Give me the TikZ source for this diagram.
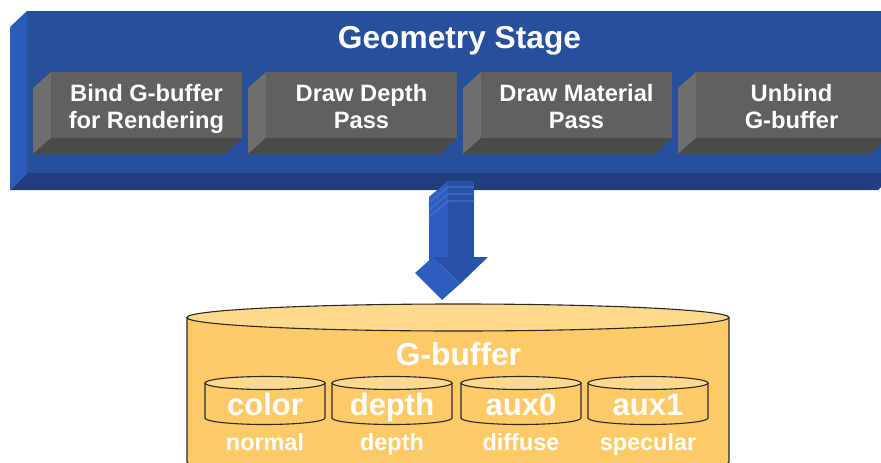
\documentclass[tikz,border=0pt]{standalone}
\usepackage{fontspec}
\setmainfont{Liberation Sans}
\definecolor{slabfront}{HTML}{274F9C}
\definecolor{slabside}{HTML}{2D5BB8}
\definecolor{slabbottom}{HTML}{213F7E}
\definecolor{boxfront}{HTML}{606060}
\definecolor{boxside}{HTML}{6E6E6E}
\definecolor{boxbottom}{HTML}{4A4A4A}
\definecolor{arrowfront}{HTML}{2852A6}
\definecolor{arrowside}{HTML}{2E5DBF}
\definecolor{arrowline}{HTML}{4470CC}
\definecolor{cylbody}{HTML}{FDCA67}
\definecolor{cyltop}{HTML}{FED98B}
\definecolor{cyledge}{HTML}{2A2A2A}
\begin{document}
\begin{tikzpicture}[x=1pt,y=-1pt,
  lbl/.style={text=white,inner sep=0pt,outer sep=0pt,anchor=base},
  bigfont/.style={font=\fontsize{31.7}{34}\selectfont\bfseries},
  boxfont/.style={font=\fontsize{23.7}{27}\selectfont\bfseries},
  tagfont/.style={font=\fontsize{31}{34}\selectfont\bfseries},
  subfont/.style={font=\fontsize{23.4}{26}\selectfont\bfseries},
  face/.style={inner sep=0pt,outer sep=0pt,anchor=north west},
  edge/.style={draw=cyledge,line width=1.1pt}]
\useasboundingbox (0,0) rectangle (881,463);
\clip (0,0) rectangle (881,463);

% ---- Geometry stage slab ----
\fill[slabside] (10,27) -- (27,11) -- (27,173) -- (10,190) -- cycle;
\fill[slabbottom] (10,190) -- (27,173) -- (895,173) -- (878,190) -- cycle;
\node[face,fill=slabfront,minimum width=868pt,minimum height=162pt] (stage) at (27,11) {};
\node[lbl,bigfont] (title) at (459.5,48) {Geometry Stage};

% ---- the four passes ----
\foreach \x/\n/\a/\b in {51/bind/Bind G-buffer/for Rendering,
                         266/depth/Draw Depth/Pass,
                         481/material/Draw Material/Pass,
                         696/unbind/Unbind/G-buffer} {
  \fill[boxside] (\x-18,88) -- (\x,72) -- (\x,138) -- (\x-18,154) -- cycle;
  \fill[boxbottom] (\x-18,154) -- (\x,138) -- (\x+191,138) -- (\x+174,154) -- cycle;
  \node[face,fill=boxfront,minimum width=191pt,minimum height=66pt] (\n) at (\x,72) {};
  \node[lbl,boxfont] (\n-text) at (\x+95.5,101)
    {\begin{tabular}[t]{@{}c@{}}\a\\\b\end{tabular}};
}

% ---- block arrow from the stage down to the G-buffer ----
\coordinate (arrowtop) at (461,181);
\coordinate (arrowtip) at (460,284);
\fill[arrowside] (429,197) -- (448,181) -- (448,257) -- (429,273) -- cycle;
\fill[arrowfront] (448,181) rectangle (474,257);
\foreach \y in {187,194,201}
  \draw[arrowline,line width=1.2pt] (429,\y+16) -- (448,\y) -- (474,\y);
\fill[arrowside] (433,257) -- (arrowtip) -- (442,300) -- (415,273) -- cycle;
\fill[arrowfront] (433,257) -- (488,257) -- (arrowtip) -- cycle;

% ---- G-buffer cylinder ----
\fill[cylbody] (187,317.5) -- (187,462)
  arc[start angle=180,end angle=0,x radius=271,y radius=13.5] -- (729,317.5) -- cycle;
\draw[edge] (187,317.5) -- (187,462)
  arc[start angle=180,end angle=0,x radius=271,y radius=13.5] -- (729,317.5);
\draw[edge,fill=cyltop] (458,317.5) ellipse[x radius=271,y radius=13.5];
\node[lbl,bigfont] (gbuf) at (458.5,365) {G-buffer};

% ---- the four render targets ----
\foreach \c/\n/\t/\s in {265/color/color/normal,
                         392/zbuf/depth/depth,
                         521/auxa/aux0/diffuse,
                         648/auxb/aux1/specular} {
  \fill[cylbody] (\c-60,383) -- (\c-60,418)
    arc[start angle=180,end angle=0,x radius=60,y radius=6.5] -- (\c+60,383) -- cycle;
  \draw[edge] (\c-60,383) -- (\c-60,418)
    arc[start angle=180,end angle=0,x radius=60,y radius=6.5] -- (\c+60,383);
  \draw[edge,fill=cyltop] (\c,383) ellipse[x radius=60,y radius=6.5];
  \node[lbl,tagfont] (\n) at (\c,415) {\t};
  \node[lbl,subfont] (\n-use) at (\c,450) {\s};
}
\end{tikzpicture}
\end{document}
